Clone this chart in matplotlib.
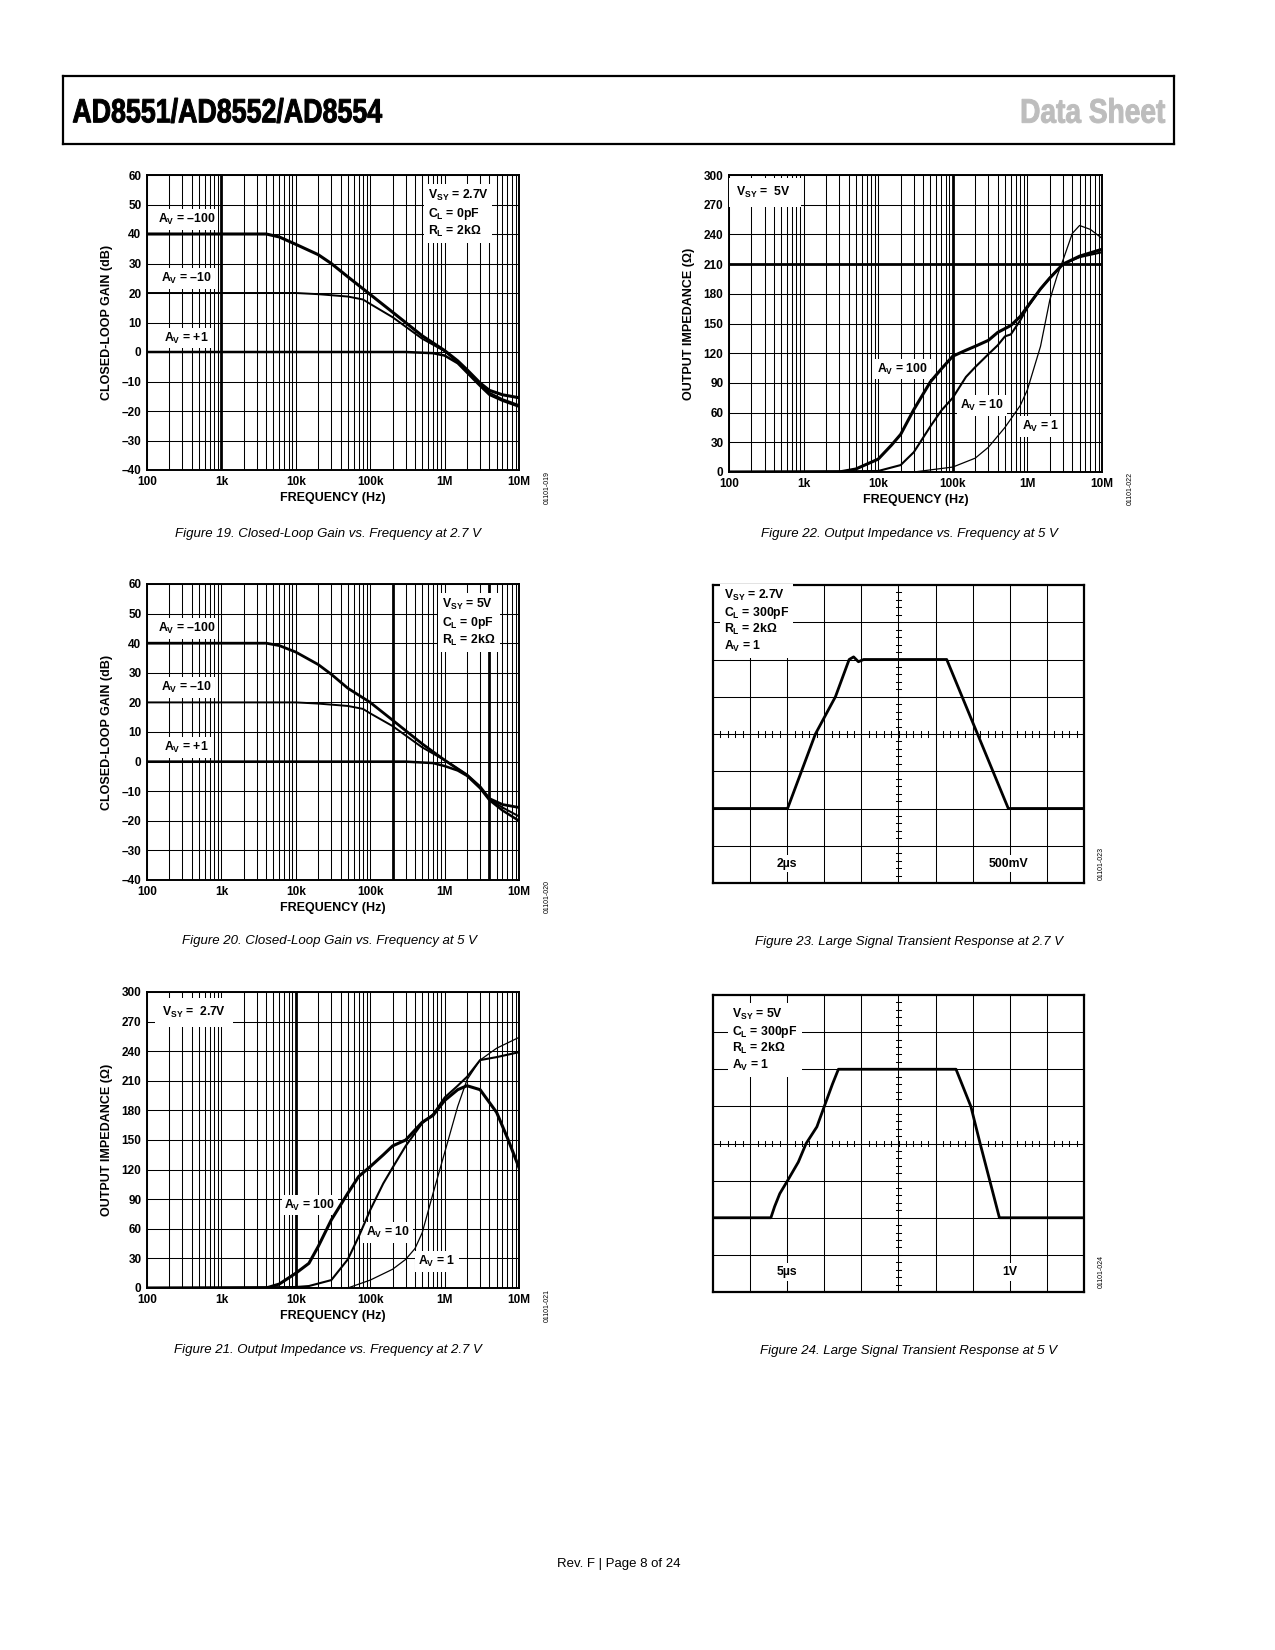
import numpy as np
import matplotlib
matplotlib.use("Agg")
import matplotlib.pyplot as plt
from matplotlib.ticker import NullLocator
from matplotlib.textpath import TextPath
from matplotlib.patches import PathPatch
from matplotlib.font_manager import FontProperties
from matplotlib.transforms import Affine2D

W, H = 1275, 1650
plt.rcParams["font.family"] = ["Liberation Sans", "DejaVu Sans"]
plt.rcParams["mathtext.fontset"] = "custom"
plt.rcParams["mathtext.rm"] = "Liberation Sans:bold"
plt.rcParams["mathtext.it"] = "Liberation Sans:bold"
plt.rcParams["mathtext.bf"] = "Liberation Sans:bold"
plt.rcParams["mathtext.default"] = "rm"

# ---- axis ticks ----
FREQ_TICKS = [1e2, 1e3, 1e4, 1e5, 1e6, 1e7]
FREQ_LABELS = ["100", "1k", "10k", "100k", "1M", "10M"]
GAIN_TICKS = [-40, -30, -20, -10, 0, 10, 20, 30, 40, 50, 60]
GAIN_LABELS = ["–40", "–30", "–20", "–10", "0", "10", "20", "30", "40", "50", "60"]
Z_TICKS = [0, 30, 60, 90, 120, 150, 180, 210, 240, 270, 300]
Z_LABELS = ["0", "30", "60", "90", "120", "150", "180", "210", "240", "270", "300"]

# ---- Figure 19: closed-loop gain, 2.7 V ----
f19_m100 = [1e2, 4e3, 6e3, 1e4, 2e4, 3e4, 5e4, 1e5, 2e5, 5e5, 1e6, 1.5e6, 2e6, 3e6, 4e6, 6e6, 1e7]
g19_m100 = [40, 40, 39, 36.5, 33, 30, 25.5, 19.5, 13.5, 5.5, 0.5, -3, -6, -10.5, -13, -14.5, -15.5]
f19_m10 = [1e2, 1e4, 2e4, 5e4, 8e4, 1e5, 2e5, 5e5, 1e6, 1.5e6, 2e6, 3e6, 4e6, 6e6, 1e7]
g19_m10 = [20, 20, 19.6, 18.8, 17.8, 16.3, 11.8, 4.5, 0.3, -3.5, -6.5, -11, -13.8, -16, -18]
f19_p1 = [1e2, 3e5, 7e5, 1e6, 1.5e6, 2e6, 3e6, 4e6, 6e6, 1e7]
g19_p1 = [0, 0, -0.4, -1.2, -3.8, -7, -11.5, -14.5, -16.5, -18.5]

# ---- Figure 20: closed-loop gain, 5 V ----
f20_m100 = [1e2, 4e3, 6e3, 1e4, 2e4, 3e4, 5e4, 1e5, 2e5, 5e5, 1e6, 2e6, 3e6, 4e6, 6e6, 1e7]
g20_m100 = [40, 40, 39.2, 37, 32.8, 29.5, 24.8, 20, 14, 6, 0.5, -4.5, -8.5, -12.5, -14.5, -15.5]
f20_m10 = [1e2, 1e4, 2e4, 5e4, 8e4, 1e5, 2e5, 5e5, 1e6, 2e6, 3e6, 4e6, 6e6, 1e7]
g20_m10 = [20, 20, 19.6, 18.8, 17.8, 16.3, 12, 4.8, 0.5, -4.5, -8.5, -12.8, -15.5, -18.5]
f20_p1 = [1e2, 3e5, 7e5, 1e6, 1.5e6, 2e6, 3e6, 4e6, 6e6, 1e7]
g20_p1 = [0, 0, -0.5, -1.5, -3, -4.8, -9, -13, -16.5, -20]

# ---- Figure 21: output impedance, 2.7 V ----
f21_a100 = [1e2, 4e3, 6e3, 1e4, 1.5e4, 2e4, 3e4, 5e4, 7e4, 1e5, 1.5e5, 2e5, 3e5, 5e5, 7e5, 1e6, 1.5e6, 2e6, 3e6, 5e6, 7e6, 1e7]
z21_a100 = [0, 0, 4, 15, 25, 42, 69, 96, 113, 123, 135, 144, 150, 168, 175, 190, 201, 205, 201, 178, 152, 122]
f21_a10 = [1e2, 1e4, 1.5e4, 3e4, 5e4, 7e4, 1e5, 1.5e5, 2e5, 3e5, 5e5, 7e5, 1e6, 1.5e6, 2e6, 3e6, 5e6, 1e7]
z21_a10 = [0, 1, 2, 8, 29, 52, 79, 106, 122, 144, 167, 176, 193, 205, 214, 231, 234, 239]
f21_a1 = [1e2, 5e4, 1e5, 2e5, 3e5, 4e5, 5e5, 7e5, 1e6, 1.5e6, 2e6, 3e6, 5e6, 1e7]
z21_a1 = [0, 0, 8, 19, 29, 40, 56, 96, 137, 184, 211, 231, 243, 254]

# ---- Figure 22: output impedance, 5 V ----
f22_a100 = [1e2, 3e3, 5e3, 1e4, 1.5e4, 2e4, 3e4, 5e4, 7e4, 1e5, 1.5e5, 2e5, 3e5, 4e5, 6e5, 8e5, 1e6, 1.5e6, 2e6, 3e6, 5e6, 1e7]
z22_a100 = [0, 0, 3, 13, 27, 38, 63, 91, 104, 117, 123, 127, 133, 141, 148, 157, 167, 185, 196, 210, 218, 225]
f22_a10 = [1e2, 1e4, 2e4, 3e4, 5e4, 7e4, 1e5, 1.5e5, 2e5, 3e5, 4e5, 5e5, 6e5, 8e5, 1e6, 1.5e6, 2e6, 3e6, 5e6, 1e7]
z22_a10 = [0, 1, 7, 20, 46, 62, 75, 96, 106, 119, 128, 137, 139, 153, 166, 185, 196, 210, 217, 222]
f22_a1 = [1e2, 3e4, 1e5, 2e5, 3e5, 5e5, 8e5, 1e6, 1.5e6, 2e6, 2.5e6, 3e6, 4e6, 5e6, 7e6, 1e7]
z22_a1 = [0, 0, 5, 14, 25, 45, 67, 83, 127, 174, 198, 214, 241, 249, 245, 236]

# ---- Figures 23/24: scope traces (divisions) ----
t23 = [0, 2.01, 2.76, 3.3, 3.67, 3.79, 3.92, 4.06, 6.3, 7.13, 7.96, 10]
v23 = [2, 2, 4, 5, 6, 6.07, 5.94, 6, 6, 4, 2, 2]
t24 = [0, 1.56, 1.66, 1.8, 2.01, 2.3, 2.51, 2.8, 3.0, 3.22, 3.38, 6.55, 6.95, 7.2, 7.72, 10]
v24 = [2, 2, 2.3, 2.65, 3.0, 3.5, 4.0, 4.45, 5.0, 5.6, 6.0, 6.0, 5.0, 4.0, 2.0, 2.0]

fig = plt.figure(figsize=(W / 100, H / 100), dpi=100)


def rect(l, t, r, b):
    return [l / W, 1 - b / H, (r - l) / W, (b - t) / H]


def ftxt(x, y, s, **kw):
    fig.text(x / W, 1 - y / H, s, **kw)


LBL = dict(fontsize=8.8, fontweight="bold", ha="center", va="center",
           bbox=dict(fc="white", ec="none", pad=2), zorder=3)


def freq_axes(box, yticks, ylabels, ylabel, heavy_x=(), heavy_y=()):
    l, t, r, b = box
    ax = fig.add_axes(rect(l, t, r, b))
    ax.set_xscale("log")
    ax.set_xlim(1e2, 1e7)
    ax.set_ylim(yticks[0], yticks[-1])
    for dec in [1e2, 1e3, 1e4, 1e5, 1e6]:
        for k in range(1, 10):
            ax.axvline(dec * k, color="k", lw=0.75, zorder=1)
    for y in yticks:
        ax.axhline(y, color="k", lw=0.75, zorder=1)
    for x in heavy_x:
        ax.axvline(x, color="k", lw=2.0, zorder=1)
    for y in heavy_y:
        ax.axhline(y, color="k", lw=2.0, zorder=1)
    ax.set_xticks(FREQ_TICKS, FREQ_LABELS, fontweight="bold")
    ax.xaxis.set_minor_locator(NullLocator())
    ax.set_yticks(yticks, ylabels, fontweight="bold")
    ax.tick_params(axis="both", length=0, labelsize=8.5)
    ax.tick_params(axis="x", pad=4)
    ax.tick_params(axis="y", pad=4)
    for s in ax.spines.values():
        s.set_linewidth(1.4)
    ftxt(l - 40, (t + b) / 2, ylabel, rotation=90, fontsize=9,
         fontweight="bold", ha="center", va="center")
    ftxt((l + r) / 2, b + 28, "FREQUENCY (Hz)", fontsize=9,
         fontweight="bold", ha="center", va="center")
    return ax


# ---------- Figure 19 ----------
ax = freq_axes((147, 175, 519, 470), GAIN_TICKS, GAIN_LABELS,
               "CLOSED-LOOP GAIN (dB)", heavy_x=[1e3])
ax.plot(f19_p1, g19_p1, color="k", lw=1.8, zorder=4)
ax.plot(f19_m10, g19_m10, color="k", lw=1.4, zorder=4)
ax.plot(f19_m100, g19_m100, color="k", lw=2.2, zorder=4)
ax.text(340, 45, "A$_{\\mathrm{V}}$ = –100", **LBL)
ax.text(340, 25, "A$_{\\mathrm{V}}$ = –10", **LBL)
ax.text(340, 4.7, "A$_{\\mathrm{V}}$ = +1", **LBL)
ax.text(0.755, 0.955, "V$_{\\mathrm{SY}}$ = 2.7V\nC$_{\\mathrm{L}}$ = 0pF\nR$_{\\mathrm{L}}$ = 2kΩ",
        transform=ax.transAxes, ha="left", va="top", fontsize=8.8, fontweight="bold",
        linespacing=1.2, bbox=dict(fc="white", ec="none", pad=3), zorder=3)

# ---------- Figure 20 ----------
ax = freq_axes((147, 584, 519, 880), GAIN_TICKS, GAIN_LABELS,
               "CLOSED-LOOP GAIN (dB)", heavy_x=[2e5, 4e6])
ax.plot(f20_p1, g20_p1, color="k", lw=1.8, zorder=4)
ax.plot(f20_m10, g20_m10, color="k", lw=1.4, zorder=4)
ax.plot(f20_m100, g20_m100, color="k", lw=2.0, zorder=4)
ax.text(340, 45, "A$_{\\mathrm{V}}$ = –100", **LBL)
ax.text(340, 25, "A$_{\\mathrm{V}}$ = –10", **LBL)
ax.text(340, 4.7, "A$_{\\mathrm{V}}$ = +1", **LBL)
ax.text(0.793, 0.955, "V$_{\\mathrm{SY}}$ = 5V\nC$_{\\mathrm{L}}$ = 0pF\nR$_{\\mathrm{L}}$ = 2kΩ",
        transform=ax.transAxes, ha="left", va="top", fontsize=8.8, fontweight="bold",
        linespacing=1.2, bbox=dict(fc="white", ec="none", pad=3), zorder=3)

# ---------- Figure 21 ----------
ax = freq_axes((147, 992, 519, 1288), Z_TICKS, Z_LABELS,
               "OUTPUT IMPEDANCE (Ω)", heavy_x=[1e4])
ax.plot(f21_a1, z21_a1, color="k", lw=0.9, zorder=4)
ax.plot(f21_a10, z21_a10, color="k", lw=1.5, zorder=4)
ax.plot(f21_a100, z21_a100, color="k", lw=2.2, zorder=4)
ax.text(1.55e4, 84, "A$_{\\mathrm{V}}$ = 100", **LBL)
ax.text(1.74e5, 56, "A$_{\\mathrm{V}}$ = 10", **LBL)
ax.text(7.9e5, 26.5, "A$_{\\mathrm{V}}$ = 1", **LBL)
ax.text(0.04, 0.955, "V$_{\\mathrm{SY}}$ =  2.7V", transform=ax.transAxes,
        ha="left", va="top", fontsize=8.8, fontweight="bold",
        bbox=dict(fc="white", ec="none", pad=5), zorder=3)

# ---------- Figure 22 ----------
ax = freq_axes((729, 175, 1102, 472), Z_TICKS, Z_LABELS,
               "OUTPUT IMPEDANCE (Ω)", heavy_x=[1e5], heavy_y=[210])
ax.plot(f22_a1, z22_a1, color="k", lw=0.9, zorder=4)
ax.plot(f22_a10, z22_a10, color="k", lw=1.5, zorder=4)
ax.plot(f22_a100, z22_a100, color="k", lw=2.2, zorder=4)
ax.text(2.1e4, 104, "A$_{\\mathrm{V}}$ = 100", **LBL)
ax.text(2.45e5, 67, "A$_{\\mathrm{V}}$ = 10", **LBL)
ax.text(1.5e6, 46, "A$_{\\mathrm{V}}$ = 1", **LBL)
ax.text(0.02, 0.965, "V$_{\\mathrm{SY}}$ =  5V  ", transform=ax.transAxes,
        ha="left", va="top", fontsize=8.8, fontweight="bold",
        bbox=dict(fc="white", ec="none", pad=5), zorder=3)


# ---------- scope plots ----------
def scope_axes(box):
    l, t, r, b = box
    ax = fig.add_axes(rect(l, t, r, b))
    ax.set_xlim(0, 10)
    ax.set_ylim(0, 8)
    for x in range(1, 10):
        ax.axvline(x, color="k", lw=0.75, zorder=1)
    for y in range(1, 8):
        ax.axhline(y, color="k", lw=0.75, zorder=1)
    for x in np.arange(0.2, 10, 0.2):
        ax.plot([x, x], [3.93, 4.07], color="k", lw=0.75, zorder=1)
    for y in np.arange(0.2, 8, 0.2):
        ax.plot([4.93, 5.07], [y, y], color="k", lw=0.75, zorder=1)
    ax.set_xticks([])
    ax.set_yticks([])
    for s in ax.spines.values():
        s.set_linewidth(1.6)
    return ax


ax = scope_axes((713, 585, 1084, 883))
ax.plot(t23, v23, color="k", lw=2.0, zorder=4)
ax.text(0.29, 7.92, "V$_{\\mathrm{SY}}$ = 2.7V\nC$_{\\mathrm{L}}$ = 300pF\nR$_{\\mathrm{L}}$ = 2kΩ\nA$_{\\mathrm{V}}$ = 1",
        ha="left", va="top", fontsize=8.8, fontweight="bold", linespacing=1.15,
        bbox=dict(fc="white", ec="none", pad=3), zorder=3)
ax.text(2.0, 0.52, "2µs", **LBL)
ax.text(7.96, 0.52, "500mV", **LBL)

ax = scope_axes((713, 995, 1084, 1292))
ax.plot(t24, v24, color="k", lw=2.0, zorder=4)
ax.text(0.51, 7.68, "V$_{\\mathrm{SY}}$ = 5V\nC$_{\\mathrm{L}}$ = 300pF\nR$_{\\mathrm{L}}$ = 2kΩ\nA$_{\\mathrm{V}}$ = 1",
        ha="left", va="top", fontsize=8.8, fontweight="bold", linespacing=1.15,
        bbox=dict(fc="white", ec="none", pad=3), zorder=3)
ax.text(2.0, 0.54, "5µs", **LBL)
ax.text(8.0, 0.54, "1V", **LBL)

# ---------- ids, captions, header, footer ----------
ID = dict(rotation=90, fontsize=5, ha="center", va="center")
ftxt(547, 488, "01101-019", **ID)
ftxt(547, 897, "01101-020", **ID)
ftxt(547, 1305, "01101-021", **ID)
ftxt(1130, 488, "01101-022", **ID)
ftxt(1101, 863, "01101-023", **ID)
ftxt(1101, 1272, "01101-024", **ID)

CAP = dict(fontsize=9.5, style="italic", ha="center", va="center")
ftxt(328, 534, "Figure 19. Closed-Loop Gain vs. Frequency at 2.7 V", **CAP)
ftxt(909, 534, "Figure 22. Output Impedance vs. Frequency at 5 V", **CAP)
ftxt(329, 941, "Figure 20. Closed-Loop Gain vs. Frequency at 5 V", **CAP)
ftxt(909, 942, "Figure 23. Large Signal Transient Response at 2.7 V", **CAP)
ftxt(328, 1350, "Figure 21. Output Impedance vs. Frequency at 2.7 V", **CAP)
ftxt(909, 1351, "Figure 24. Large Signal Transient Response at 5 V", **CAP)

# header box in pixel coordinates (y down)
hdr = fig.add_axes(rect(63, 76, 1174, 144))
hdr.set_xlim(63, 1174)
hdr.set_ylim(144, 76)
hdr.set_xticks([])
hdr.set_yticks([])
for s in hdr.spines.values():
    s.set_linewidth(1.6)


def narrow_text(s, x0, x1, top, base, color):
    # condensed bold title: squeeze a bold outline into the given box
    tp = TextPath((0, 0), s, size=100,
                  prop=FontProperties(family="Liberation Sans", weight="bold"))
    ext = tp.get_extents()
    sx = (x1 - x0) / ext.width
    sy = (base - top) / ext.height
    tr = Affine2D().translate(-ext.x0, -ext.y0).scale(sx, -sy).translate(x0, base)
    hdr.add_patch(PathPatch(tr.transform_path(tp), fc=color, ec=color, lw=0.7,
                            transform=hdr.transData))


narrow_text("AD8551/AD8552/AD8554", 73, 382, 98, 123, "black")
narrow_text("Data Sheet", 1022, 1165, 98, 123, "#bdbdbd")

ftxt(619, 1564, "Rev. F | Page 8 of 24", fontsize=9.5, ha="center", va="center")

fig.savefig("out.png", dpi=100)
